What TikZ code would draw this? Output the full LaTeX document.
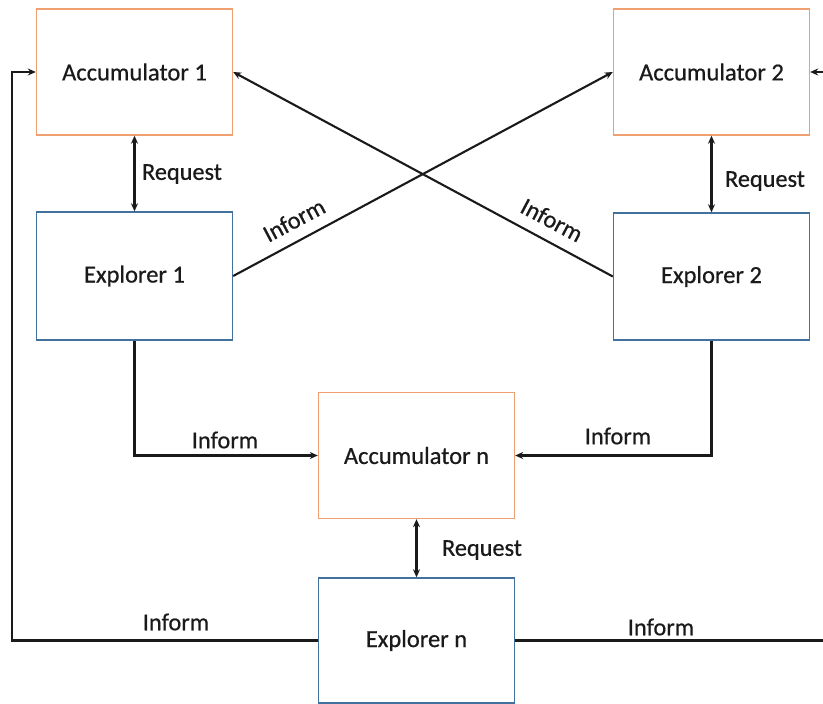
\documentclass[tikz,border=0pt]{standalone}
\usepackage{fontspec}
\setmainfont{Carlito}
\newfontfamily\diafont[FakeBold=0.6]{Carlito}
\usetikzlibrary{arrows.meta}
\definecolor{accorange}{HTML}{F0A070}
\definecolor{expblue}{HTML}{41719C}
\definecolor{ink}{HTML}{1A1A1A}
\begin{document}
\begin{tikzpicture}[x=1pt,y=-1pt,
  box/.style={draw, line width=1.4pt, minimum width=196pt, minimum height=126pt,
    inner sep=0pt, font=\diafont\fontsize{24.5}{28}\selectfont, text=ink},
  accbox/.style={box, draw=accorange},
  expbox/.style={box, draw=expblue},
  tip/.tip={Stealth[length=8pt,width=7pt]},
  link/.style={draw=ink, line width=2.1pt, -tip},
  twoway/.style={draw=ink, line width=2.1pt, tip-tip},
  lbl/.style={font=\diafont\fontsize{24.3}{28}\selectfont, text=ink, inner sep=0pt}]
\useasboundingbox (0,0) rectangle (823,704);
\clip (0,0) rectangle (823,704);
\fill[white] (0,0) rectangle (823,704);

% boxes
\node[accbox] (acc1) at (134.5,72) {Accumulator 1};
\node[accbox] (acc2) at (711.5,72) {Accumulator 2};
\node[expbox, minimum height=128pt] (exp1) at (134.5,276) {Explorer 1};
\node[expbox, minimum height=127pt] (exp2) at (711.5,276.5) {Explorer 2};
\node[accbox] (accn) at (416.5,455.5) {Accumulator n};
\node[expbox, minimum height=125pt] (expn) at (416.5,640.5) {Explorer n};

% rails for the outer loops
\coordinate (lrail) at (12,0);
\coordinate (rrail) at (840,0);

% request links
\draw[twoway] (acc1.south) -- (exp1.north);
\draw[twoway] (acc2.south) -- (exp2.north);
\draw[twoway] (accn.south) -- (expn.north);

% crossing inform links
\draw[link] (exp1.east) -- (acc2.west);
\draw[link] (exp2.west) -- (acc1.east);

% inform links to accumulator n
\draw[link] (exp1.south) |- (accn.west);
\draw[link] (exp2.south) |- (accn.east);

% outer loops from explorer n
\draw[link] (expn.west) -- (expn.west -| lrail) -- (acc1.west -| lrail) -- (acc1.west);
\draw[link] (expn.east) -- (expn.east -| rrail) -- (acc2.east -| rrail) -- (acc2.east);

% labels
\node[lbl] (rq1) at (182,174) {Request};
\node[lbl] (rq2) at (765,181) {Request};
\node[lbl] (rqn) at (482,550) {Request};
\node[lbl, rotate=28] (inx1) at (294,220) {Inform};
\node[lbl, rotate=-28] (inx2) at (552,220) {Inform};
\node[lbl] (in1) at (225,440) {Inform};
\node[lbl] (in2) at (618,436) {Inform};
\node[lbl] (inl) at (176,622) {Inform};
\node[lbl] (inr) at (661,627) {Inform};
\end{tikzpicture}
\end{document}
